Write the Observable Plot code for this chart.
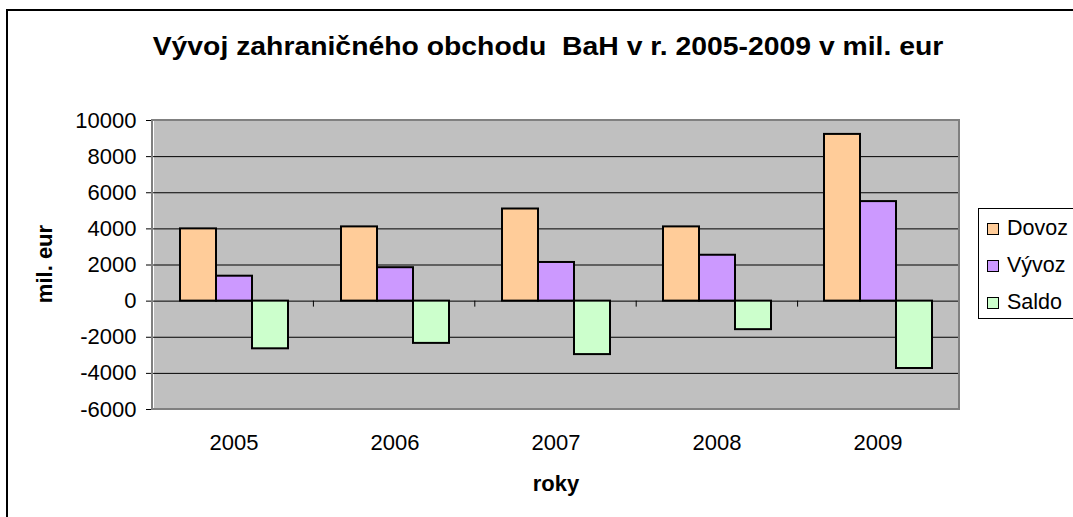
<!DOCTYPE html>
<html>
<head>
<meta charset="utf-8">
<script src="https://cdn.jsdelivr.net/npm/d3@7"></script>
<script src="https://cdn.jsdelivr.net/npm/@observablehq/plot@0.6"></script>
<style>
  body { margin: 0; background: #fff; font-family: Arial, "Liberation Sans", sans-serif; }
  #wrap { position: relative; width: 1073px; height: 517px; overflow: hidden; background: #fff; }
  #border { position: absolute; left: 6px; top: 9px; width: 1200px; height: 700px; border: 2px solid #000; box-sizing: border-box; }
  #chart { position: absolute; left: 0; top: 0; }
  #title { position: absolute; left: 0; width: 1096px; top: 30px; line-height: 32px; text-align: center; font-weight: bold; font-size: 26px; color: #000; white-space: nowrap; transform: scaleX(1.09); transform-origin: 548px 50%; }
  #ylab { position: absolute; left: 45px; top: 264px; transform: translate(-50%, -50%) rotate(-90deg); font-weight: bold; font-size: 22px; white-space: nowrap; color: #000; }
  #xlab { position: absolute; left: 556px; top: 484px; transform: translate(-50%, -50%); font-weight: bold; font-size: 22px; white-space: nowrap; color: #000; }
  #legend { position: absolute; left: 978px; top: 208px; width: 120px; height: 111px; border: 1px solid #000; box-sizing: border-box; padding-top: 1px; background: #fff; }
  .item { display: flex; align-items: center; height: 37px; font-size: 21.5px; color: #000; }
  .sw { width: 12px; height: 12px; border: 1px solid #000; box-sizing: border-box; margin-left: 8px; margin-right: 8px; }
</style>
</head>
<body>
<div id="wrap">
  <div id="border"></div>
  <div id="chart"></div>
  <div id="title">Vývoj zahraničného obchodu&nbsp; BaH v r. 2005-2009 v mil. eur</div>
  <div id="ylab">mil. eur</div>
  <div id="xlab">roky</div>
  <div id="legend"></div>
</div>
<script>
const years = ["2005", "2006", "2007", "2008", "2009"];
const series = ["Dovoz", "Vývoz", "Saldo"];
const dovoz = [4000, 4110, 5100, 4110, 9230];
const vyvoz = [1380, 1850, 2140, 2540, 5510];
const saldo = [-2640, -2340, -2960, -1580, -3730];
const colors = ["#ffcc99", "#cc99ff", "#ccffcc"];
const yTicks = [-6000, -4000, -2000, 0, 2000, 4000, 6000, 8000, 10000];
const gridTicks = [-4000, -2000, 0, 2000, 4000, 6000, 8000];

const rows = years.flatMap((yr, i) => [
  {year: yr, series: series[0], value: dovoz[i]},
  {year: yr, series: series[1], value: vyvoz[i]},
  {year: yr, series: series[2], value: saldo[i]}
]);

const chart = Plot.plot({
  width: 1073,
  height: 517,
  marginTop: 120,
  marginBottom: 108,
  marginLeft: 152,
  marginRight: 114,
  style: {fontFamily: 'Arial, "Liberation Sans", sans-serif', fontSize: "22px", color: "#000", background: "transparent", overflow: "visible"},
  facet: {data: rows, x: "year", label: null},
  fx: {domain: years, padding: 0, axis: "bottom", tickSize: 0, tickPadding: 25, label: null},
  x: {domain: series, paddingInner: 0, paddingOuter: 0.73, axis: null},
  y: {domain: [-6000, 10000], ticks: yTicks, tickFormat: d => String(d), tickSize: 7, tickPadding: 10, label: null},
  color: {domain: series, range: colors},
  marks: [
    Plot.frame({fill: "#c0c0c0", stroke: "none", shapeRendering: "crispEdges"}),
    Plot.ruleY(gridTicks, {stroke: "#000", strokeWidth: 1}),
    Plot.barY(rows, {x: "series", y: "value", fill: "series", stroke: "#000", strokeWidth: 2})
  ]
});
document.getElementById("chart").appendChild(chart);

// plot-area border and category tick marks, placed from the library's scales
const svg = d3.select(chart.tagName.toLowerCase() === "svg" ? chart : chart.querySelector("svg"));
const yS = chart.scale("y");
const yLin = d3.scaleLinear().domain(yS.domain).range(yS.range);
let fxS = null;
try { fxS = chart.scale("fx"); } catch (e) { fxS = null; }
const x0 = fxS && fxS.range ? fxS.range[0] : 152;
const x1 = fxS && fxS.range ? fxS.range[1] : 1073 - 114;
const yTop = yLin(10000), yBot = yLin(-6000), yZero = yLin(0);
const g = svg.append("g");
const n = years.length;
for (let i = 1; i <= n; i++) {
  const xx = x0 + (x1 - x0) * i / n;
  g.append("line").attr("x1", xx).attr("x2", xx).attr("y1", yZero).attr("y2", yZero + 6)
    .attr("stroke", "#000").attr("stroke-width", 1);
}
g.append("rect").attr("x", x0).attr("y", yTop).attr("width", x1 - x0).attr("height", yBot - yTop)
  .attr("fill", "none").attr("stroke", "#808080").attr("stroke-width", 2);

// legend
const legend = document.getElementById("legend");
series.forEach((s, i) => {
  const it = document.createElement("div");
  it.className = "item";
  const sw = document.createElement("span");
  sw.className = "sw";
  sw.style.background = colors[i];
  const tx = document.createElement("span");
  tx.textContent = s;
  it.appendChild(sw);
  it.appendChild(tx);
  legend.appendChild(it);
});
</script>
</body>
</html>
